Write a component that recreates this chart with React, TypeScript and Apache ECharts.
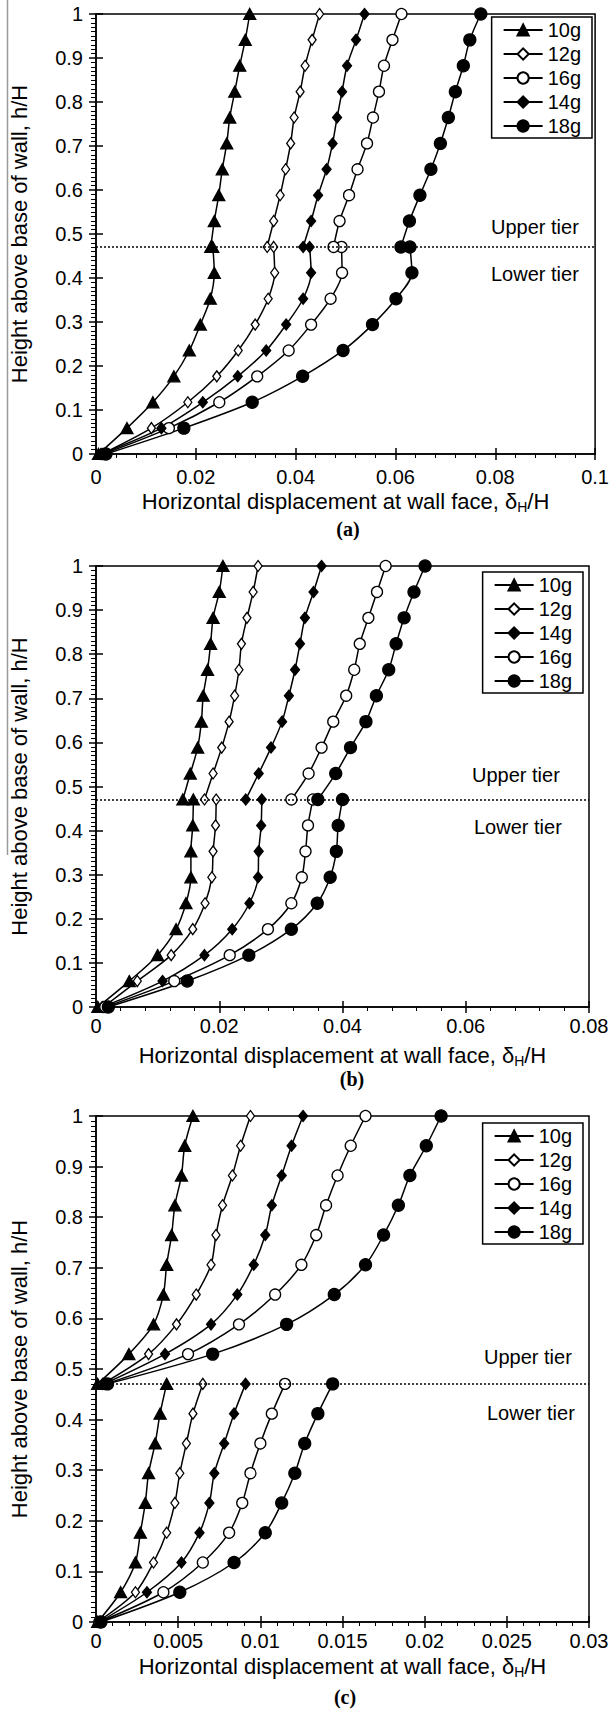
import React, { useEffect, useRef } from "react";
import * as echarts from "echarts";

// Heights (h/H) of the measurement points: lower tier and upper tier
const H_LOWER = [0, 0.0588, 0.1176, 0.1765, 0.2353, 0.2941, 0.3529, 0.4118, 0.4706];
const H_UPPER = [0.4706, 0.5294, 0.5882, 0.6471, 0.7059, 0.7647, 0.8235, 0.8824, 0.9412, 1.0];
const TIER_LINE = 0.4706;

const LEGEND_A = ["10g", "12g", "16g", "14g", "18g"];
const LEGEND_B = ["10g", "12g", "14g", "16g", "18g"];
const LEGEND_C = ["10g", "12g", "16g", "14g", "18g"];

// Panel (a) displacements dH/H
const A_10_LOW = [0.0005, 0.0062, 0.0114, 0.0156, 0.0187, 0.0209, 0.0229, 0.0237, 0.0234];
const A_10_UP = [0.023, 0.0237, 0.0246, 0.0253, 0.0262, 0.0268, 0.0278, 0.0288, 0.0299, 0.0308];
const A_12_LOW = [0.0012, 0.0111, 0.0184, 0.0242, 0.0285, 0.0319, 0.0345, 0.0358, 0.0356];
const A_12_UP = [0.0343, 0.0356, 0.0369, 0.038, 0.039, 0.0397, 0.0409, 0.0419, 0.0433, 0.0448];
const A_14_LOW = [0.001, 0.0131, 0.0214, 0.0284, 0.0341, 0.0381, 0.0415, 0.0431, 0.0428];
const A_14_UP = [0.0415, 0.0431, 0.0445, 0.0462, 0.0474, 0.0483, 0.0493, 0.0503, 0.0521, 0.0538];
const A_16_LOW = [0.0015, 0.0146, 0.0247, 0.0323, 0.0386, 0.0431, 0.047, 0.0493, 0.0492];
const A_16_UP = [0.0476, 0.0488, 0.0507, 0.0524, 0.0543, 0.0555, 0.0567, 0.0577, 0.0594, 0.0612];
const A_18_LOW = [0.002, 0.0176, 0.0313, 0.0414, 0.0495, 0.0554, 0.0601, 0.0633, 0.0629];
const A_18_UP = [0.0611, 0.0628, 0.0649, 0.0671, 0.069, 0.0706, 0.072, 0.0736, 0.0749, 0.0771];

// Panel (b)
const B_10_LOW = [0.0003, 0.0054, 0.01, 0.013, 0.0146, 0.0154, 0.0154, 0.0157, 0.0158];
const B_10_UP = [0.0141, 0.0153, 0.0165, 0.0171, 0.0174, 0.0181, 0.0186, 0.019, 0.02, 0.0206];
const B_12_LOW = [0.0012, 0.0067, 0.0122, 0.0157, 0.0177, 0.0188, 0.019, 0.0194, 0.0195];
const B_12_UP = [0.0176, 0.019, 0.0204, 0.0216, 0.0225, 0.0232, 0.0236, 0.0245, 0.0255, 0.0263];
const B_14_LOW = [0.001, 0.0108, 0.0176, 0.0221, 0.0249, 0.0263, 0.0264, 0.0268, 0.0269];
const B_14_UP = [0.0243, 0.0264, 0.0284, 0.0302, 0.0313, 0.0323, 0.0331, 0.0339, 0.0353, 0.0366];
const B_16_LOW = [0.0015, 0.0127, 0.0217, 0.0279, 0.0317, 0.0334, 0.034, 0.0344, 0.0352];
const B_16_UP = [0.0317, 0.0345, 0.0366, 0.0385, 0.0406, 0.0419, 0.0428, 0.0442, 0.0456, 0.047];
const B_18_LOW = [0.002, 0.0148, 0.0248, 0.0317, 0.0359, 0.038, 0.039, 0.0393, 0.04];
const B_18_UP = [0.036, 0.0389, 0.0413, 0.0438, 0.0455, 0.0475, 0.0487, 0.05, 0.0516, 0.0534];

// Panel (c)
const C_10_LOW = [0.0001, 0.0015, 0.0024, 0.0027, 0.003, 0.0032, 0.0036, 0.0039, 0.0043];
const C_10_UP = [0.0001, 0.002, 0.0035, 0.0041, 0.0043, 0.0046, 0.0048, 0.0052, 0.0054, 0.0059];
const C_12_LOW = [0.0001, 0.0024, 0.0035, 0.0043, 0.0048, 0.0051, 0.0055, 0.0059, 0.0065];
const C_12_UP = [0.0004, 0.0032, 0.0049, 0.0061, 0.007, 0.0073, 0.0077, 0.0083, 0.0088, 0.0094];
const C_14_LOW = [0.0002, 0.0031, 0.0052, 0.0063, 0.0069, 0.0072, 0.0078, 0.0084, 0.0091];
const C_14_UP = [0.0005, 0.0042, 0.007, 0.0086, 0.0096, 0.0103, 0.0107, 0.0113, 0.0119, 0.0126];
const C_16_LOW = [0.0002, 0.0041, 0.0065, 0.0081, 0.0089, 0.0094, 0.01, 0.0107, 0.0115];
const C_16_UP = [0.0006, 0.0056, 0.0087, 0.0109, 0.0125, 0.0134, 0.014, 0.0147, 0.0155, 0.0164];
const C_18_LOW = [0.0003, 0.0051, 0.0084, 0.0103, 0.0113, 0.0121, 0.0127, 0.0135, 0.0144];
const C_18_UP = [0.0007, 0.0071, 0.0116, 0.0145, 0.0164, 0.0175, 0.0184, 0.0191, 0.0201, 0.021];

const X_MAX = [0.1, 0.08, 0.03];
const X_INTERVAL = [0.02, 0.02, 0.005];

const FONT = "'Liberation Sans', Arial, sans-serif";

const MARKERS: Record<string, any> = {
  "10g": { symbol: "triangle", size: [12, 11], fill: "#000" },
  "12g": { symbol: "diamond", size: [8, 11], fill: "#fff" },
  "14g": { symbol: "diamond", size: [9, 11], fill: "#000" },
  "16g": { symbol: "circle", size: 11, fill: "#fff" },
  "18g": { symbol: "circle", size: 12, fill: "#000" },
};

function pairs(xs: number[], hs: number[]) {
  return xs.map((x, i) => [x, hs[i]]);
}

function lineSeries(panel: number, name: string, xs: number[], hs: number[], withMark = false) {
  const m = MARKERS[name];
  const s: any = {
    type: "line",
    name,
    xAxisIndex: panel * 2,
    yAxisIndex: panel * 2,
    data: pairs(xs, hs),
    smooth: 0.3,
    symbol: m.symbol,
    symbolSize: m.size,
    showAllSymbol: true,
    lineStyle: { color: "#000", width: 1.5 },
    itemStyle: { color: m.fill, borderColor: "#000", borderWidth: 1.3 },
    emphasis: { disabled: true },
    z: 3,
  };
  if (withMark) {
    s.markLine = {
      silent: true,
      symbol: "none",
      label: { show: false },
      lineStyle: { color: "#000", width: 1.5, type: [2, 2] },
      data: [{ yAxis: TIER_LINE }],
    };
  }
  return s;
}

const PANELS = [
  {
    data: {
      "10g": [A_10_LOW, A_10_UP],
      "12g": [A_12_LOW, A_12_UP],
      "14g": [A_14_LOW, A_14_UP],
      "16g": [A_16_LOW, A_16_UP],
      "18g": [A_18_LOW, A_18_UP],
    } as Record<string, number[][]>,
  },
  {
    data: {
      "10g": [B_10_LOW, B_10_UP],
      "12g": [B_12_LOW, B_12_UP],
      "14g": [B_14_LOW, B_14_UP],
      "16g": [B_16_LOW, B_16_UP],
      "18g": [B_18_LOW, B_18_UP],
    } as Record<string, number[][]>,
  },
  {
    data: {
      "10g": [C_10_LOW, C_10_UP],
      "12g": [C_12_LOW, C_12_UP],
      "14g": [C_14_LOW, C_14_UP],
      "16g": [C_16_LOW, C_16_UP],
      "18g": [C_18_LOW, C_18_UP],
    } as Record<string, number[][]>,
  },
];

const GRIDS = [
  { left: 94, top: 14, width: 504, height: 440 },
  { left: 93, top: 566, width: 496, height: 441 },
  { left: 93, top: 1116, width: 496, height: 506 },
];
const X_LABEL_MARGIN = [13, 9, 9];
const X_NAME_GAP = [35, 36, 32];
const LEGEND_POS = [
  { right: 20, top: 17 },
  { right: 29, top: 572 },
  { right: 29, top: 1123 },
];

function buildOption() {
  const axisColor = "#000";
  const xAxes: any[] = [];
  const yAxes: any[] = [];
  const series: any[] = [];
  const legends: any[] = [];
  const legendData = [LEGEND_A, LEGEND_B, LEGEND_C];

  for (let p = 0; p < 3; p++) {
    xAxes.push({
      type: "value",
      gridIndex: p,
      min: 0,
      max: X_MAX[p],
      interval: X_INTERVAL[p],
      axisLine: { onZero: false, lineStyle: { color: axisColor, width: 1.5 } },
      axisTick: { inside: false, length: 6, lineStyle: { color: axisColor, width: 1.5 } },
      minorTick: { show: true, splitNumber: 5, length: 4, lineStyle: { color: axisColor, width: 1 } },
      splitLine: { show: false },
      axisLabel: { color: "#000", fontSize: 20, fontFamily: FONT, margin: X_LABEL_MARGIN[p] },
      name: "Horizontal displacement at wall face, δ{s|H}/H",
      nameLocation: "middle",
      nameGap: X_NAME_GAP[p],
      nameTextStyle: {
        color: "#000",
        fontSize: 22,
        fontFamily: FONT,
        rich: { s: { fontSize: 14, fontFamily: FONT, color: "#000", padding: [11, 0, 0, 0] } },
      },
    });
    xAxes.push({
      type: "value",
      gridIndex: p,
      min: 0,
      max: X_MAX[p],
      interval: X_INTERVAL[p],
      position: "bottom",
      axisLine: { show: false, onZero: false },
      axisTick: { show: true, inside: true, length: 6, lineStyle: { color: axisColor, width: 1.5 } },
      axisLabel: { show: false },
      splitLine: { show: false },
    });
    yAxes.push({
      type: "value",
      gridIndex: p,
      min: 0,
      max: 1,
      interval: 0.1,
      axisLine: { onZero: false, lineStyle: { color: axisColor, width: 1.5 } },
      axisTick: { inside: false, length: 7, lineStyle: { color: axisColor, width: 1.5 } },
      minorTick: { show: true, splitNumber: 10, length: 5, lineStyle: { color: axisColor, width: 1 } },
      splitLine: { show: false },
      axisLabel: { color: "#000", fontSize: 20, fontFamily: FONT, margin: 13 },
      name: "Height above base of wall, h/H",
      nameLocation: "middle",
      nameRotate: 90,
      nameGap: 66,
      nameTextStyle: { color: "#000", fontSize: 22, fontFamily: FONT },
    });
    yAxes.push({
      type: "value",
      gridIndex: p,
      min: 0,
      max: 1,
      interval: 0.1,
      position: "left",
      axisLine: { show: false, onZero: false },
      axisTick: { show: true, inside: true, length: 7, lineStyle: { color: axisColor, width: 1.5 } },
      axisLabel: { show: false },
      splitLine: { show: false },
    });

    const pd = PANELS[p].data;
    let first = true;
    for (const name of legendData[p]) {
      const [low, up] = pd[name];
      series.push(lineSeries(p, name, low, H_LOWER, first));
      first = false;
      series.push(lineSeries(p, name, up, H_UPPER));
    }

    legends.push({
      data: legendData[p],
      orient: "vertical",
      ...LEGEND_POS[p],
      backgroundColor: "#fff",
      borderColor: "#000",
      borderWidth: 1.5,
      borderRadius: 0,
      padding: [3, 11, 2, 11],
      itemGap: 4,
      itemWidth: 39,
      itemHeight: 14,
      selectedMode: false,
      textStyle: { fontSize: 20, color: "#000", fontFamily: FONT },
    });
  }

  const tierText = (text: string, x: number, y: number) => ({
    type: "text",
    x,
    y,
    style: { text, fill: "#000", fontSize: 20, fontFamily: FONT, textVerticalAlign: "middle", verticalAlign: "middle" },
    z: 10,
  });
  const panelLabel = (text: string, x: number, y: number) => ({
    type: "text",
    x,
    y,
    style: {
      text,
      fill: "#000",
      fontSize: 20,
      fontWeight: "bold",
      fontFamily: "'Liberation Serif', 'Times New Roman', serif",
      align: "center",
      verticalAlign: "middle",
      textAlign: "center",
      textVerticalAlign: "middle",
    },
    z: 10,
  });

  const graphic = [
    tierText("Upper tier", 491, 227),
    tierText("Lower tier", 491, 274),
    tierText("Upper tier", 472, 775),
    tierText("Lower tier", 474, 827),
    tierText("Upper tier", 484, 1357),
    tierText("Lower tier", 487, 1413),
    panelLabel("(a)", 348, 529),
    panelLabel("(b)", 352, 1079),
    panelLabel("(c)", 345, 1697),
    {
      type: "line",
      shape: { x1: 7.5, y1: 0, x2: 7.5, y2: 855 },
      style: { stroke: "#9a9a9a", lineWidth: 1.5 },
      z: 1,
    },
  ];

  return {
    animation: false,
    backgroundColor: "#fff",
    grid: GRIDS.map((g) => ({ ...g, show: true, borderColor: "#000", borderWidth: 1.5, backgroundColor: "transparent" })),
    xAxis: xAxes,
    yAxis: yAxes,
    legend: legends,
    series,
    graphic,
  };
}

export default function App() {
  const ref = useRef<HTMLDivElement>(null);
  useEffect(() => {
    document.body.style.margin = "0";
    if (!ref.current) return;
    const chart = echarts.init(ref.current, undefined, { renderer: "svg" });
    chart.setOption(buildOption() as any);
    return () => {
      chart.dispose();
    };
  }, []);
  return <div ref={ref} style={{ width: 612, height: 1709 }} />;
}
